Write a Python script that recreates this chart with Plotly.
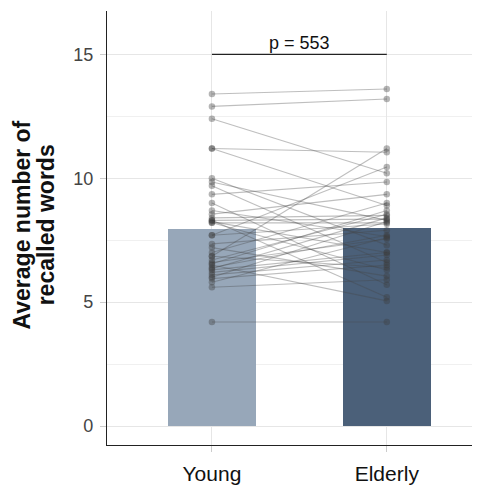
import plotly.graph_objects as go

groups = ["Young", "Elderly"]
bar_means = [7.96, 8.0]
young = [13.4, 12.9, 12.4, 11.2, 11.2, 10.0, 9.85, 9.7, 9.35, 9.0, 8.7, 8.55, 8.4, 8.3, 8.3,
         8.25, 8.2, 8.2, 7.7, 7.7, 7.35, 7.2, 7.0, 6.85, 6.85, 6.7, 6.6, 6.55, 6.5, 6.4,
         6.35, 6.3, 6.2, 6.1, 6.0, 5.95, 5.8, 5.6, 4.2]
elderly = [13.6, 13.2, 10.2, 11.05, 8.9, 7.3, 8.3, 6.6, 9.85, 5.7, 7.65, 9.35, 8.5, 5.2, 8.35,
           7.0, 8.2, 6.3, 10.45, 8.15, 7.9, 6.05, 9.0, 11.2, 6.4, 8.55, 7.55, 8.7, 5.05, 7.7,
           8.4, 7.0, 6.9, 6.7, 8.25, 6.5, 7.6, 5.9, 4.2]
p_label = "p = 553"
y_title_lines = ["Average number of", "recalled words"]

xpos = [1, 2]
bar_colors = ["#97a7b9", "#4b6079"]

fig = go.Figure()
fig.add_trace(go.Bar(x=xpos, y=bar_means, width=0.5, marker=dict(color=bar_colors, line=dict(width=0)),
                     showlegend=False, hoverinfo="skip"))
for a, b in zip(young, elderly):
    fig.add_trace(go.Scatter(x=xpos, y=[a, b], mode="lines+markers",
                             line=dict(color="rgba(70,70,70,0.35)", width=1.1),
                             marker=dict(color="rgba(60,60,60,0.38)", size=6.5),
                             showlegend=False, hoverinfo="skip"))

fig.add_shape(type="line", x0=1, x1=2, y0=15, y1=15, xref="x", yref="y",
              line=dict(color="#222222", width=1.1))
fig.add_annotation(x=1.5, y=15.45, text=p_label, showarrow=False, xref="x", yref="y",
                   font=dict(size=18, color="#111111"))

for i, (txt, px) in enumerate(zip(y_title_lines, [-0.228, -0.164])):
    fig.add_annotation(x=px, y=0.508, xref="paper", yref="paper", text="<b>" + txt + "</b>",
                       textangle=-90, showarrow=False, xanchor="center", yanchor="middle",
                       font=dict(size=23, color="#111111"))

axis_font = "Liberation Sans, Arial, sans-serif"
fig.update_layout(
    width=472, height=479,
    margin=dict(l=99, r=0, t=3, b=42),
    plot_bgcolor="white", paper_bgcolor="white",
    font=dict(family=axis_font),
    bargap=0,
    xaxis=dict(range=[0.4, 2.533], tickvals=xpos, ticktext=groups,
               showgrid=True, gridcolor="#e6e6e6", gridwidth=1,
               showline=True, linecolor="#222222", linewidth=1.2,
               ticks="outside", ticklen=6, tickcolor="#cccccc", tickwidth=1,
               ticklabelstandoff=4,
               tickfont=dict(size=21, color="#111111"), zeroline=False),
    yaxis=dict(range=[-0.767, 16.75], tickvals=[0, 5, 10, 15],
               showgrid=True, gridcolor="#e6e6e6", gridwidth=1,
               minor=dict(tickvals=[2.5, 7.5, 12.5], showgrid=True, gridcolor="#f0f0f0", gridwidth=1),
               showline=True, linecolor="#222222", linewidth=1.2,
               ticks="outside", ticklen=6, tickcolor="#cccccc", tickwidth=1,
               ticklabelstandoff=3,
               tickfont=dict(size=18, color="#444444"), zeroline=False),
)

fig.write_html("out.html")
